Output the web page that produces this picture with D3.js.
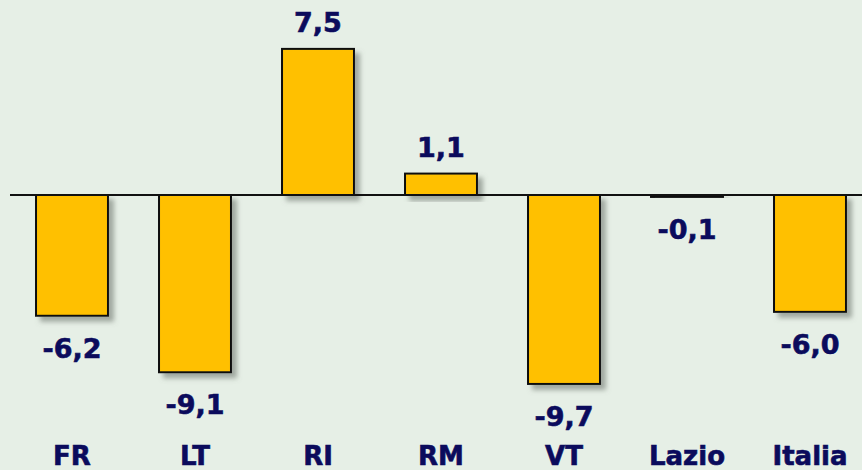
<!DOCTYPE html>
<html>
<head>
<meta charset="utf-8">
<script src="https://cdn.jsdelivr.net/npm/d3@7.9.0/dist/d3.min.js"></script>
<style>
  html, body { margin: 0; padding: 0; background: #e6efe6; }
  svg { display: block; }
  text { font-family: "DejaVu Sans", Verdana, sans-serif; font-weight: bold; fill: #0b0b5c; stroke: #0b0b5c; stroke-width: 0.6px; }
</style>
</head>
<body>
<svg id="chart"></svg>
<script>
// data
const categories = ['FR', 'LT', 'RI', 'RM', 'VT', 'Lazio', 'Italia'];
const values = [-6.2, -9.1, 7.5, 1.1, -9.7, -0.1, -6.0];

const width = 862;
const height = 470;

const svg = d3.select('#chart')
  .attr('width', width)
  .attr('height', height);

// drop shadow for bars
const defs = svg.append('defs');
defs.append('filter')
  .attr('id', 'shadow')
  .attr('x', '-20%').attr('y', '-20%')
  .attr('width', '150%').attr('height', '150%')
  .append('feDropShadow')
  .attr('dx', 5).attr('dy', 5)
  .attr('stdDeviation', 2.5)
  .attr('flood-color', '#6f786f')
  .attr('flood-opacity', 0.6);

// scales
const x = d3.scaleBand()
  .domain(categories)
  .range([10.5, 871.5])
  .paddingInner(0.415)
  .paddingOuter(0.2075);

const y = d3.scaleLinear()
  .domain([-10, 8])
  .range([195 + 10 * 19.48, 195 - 8 * 19.48]);

const data = categories.map((c, i) => ({ cat: c, value: values[i] }));
const fmt = v => v.toFixed(1).replace('.', ',');

// bars
svg.append('g')
  .selectAll('rect')
  .data(data)
  .join('rect')
  .attr('x', d => x(d.cat))
  .attr('width', x.bandwidth())
  .attr('y', d => y(Math.max(0, d.value)))
  .attr('height', d => Math.abs(y(d.value) - y(0)))
  .attr('fill', '#ffc000')
  .attr('stroke', '#111')
  .attr('stroke-width', 2)
  .attr('filter', 'url(#shadow)');

// zero line
svg.append('line')
  .attr('x1', 10).attr('x2', width)
  .attr('y1', y(0)).attr('y2', y(0))
  .attr('stroke', '#111')
  .attr('stroke-width', 1.8);

// value labels
svg.append('g')
  .selectAll('text')
  .data(data)
  .join('text')
  .attr('x', d => x(d.cat) + x.bandwidth() / 2)
  .attr('y', d => d.value >= 0 ? y(d.value) - 17 : y(d.value) + 42)
  .attr('text-anchor', 'middle')
  .attr('font-size', 27)
  .text(d => fmt(d.value));

// category labels
svg.append('g')
  .selectAll('text')
  .data(categories)
  .join('text')
  .attr('x', d => x(d) + x.bandwidth() / 2)
  .attr('y', 465)
  .attr('text-anchor', 'middle')
  .attr('font-size', 26)
  .text(d => d);
</script>
</body>
</html>
